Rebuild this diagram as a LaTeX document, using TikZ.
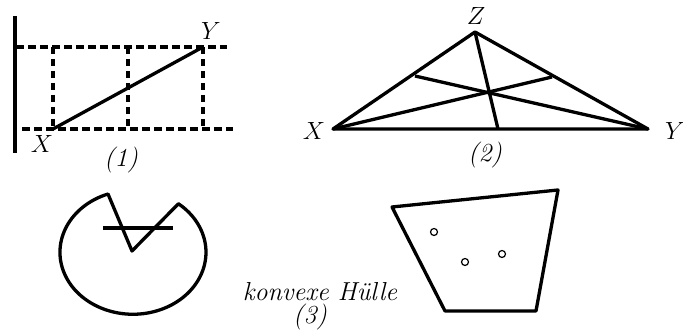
\documentclass[tikz,border=0pt]{standalone}
\usepackage{fontspec}
\begin{document}
\begin{tikzpicture}[x=1pt,y=1pt]
  \tikzstyle{solidLine}=[line width=3.3pt]
  \tikzstyle{dashLine}=[line width=3.3pt, dash pattern=on 7.5pt off 4.5pt]
  \tikzstyle{labelStyle}=[inner sep=0pt, font=\fontsize{26}{28}\selectfont\itshape]
  \tikzstyle{dotStyle}=[circle, draw, line width=1.2pt, minimum size=7pt, inner sep=0pt]

  \useasboundingbox (0,0) rectangle (683,331);

  % (1)
  \begin{scope}
    \coordinate (wallTop) at (15,315);
    \coordinate (wallBottom) at (15,178);
    \draw[solidLine] (wallTop) -- (wallBottom);
    \coordinate (upperLeft) at (16,284);
    \coordinate (upperRight) at (227,284);
    \draw[dashLine] (upperLeft) -- (upperRight);
    \coordinate (lowerLeft) at (22,202);
    \coordinate (lowerRight) at (233,202);
    \draw[dashLine] (lowerLeft) -- (lowerRight);
    \foreach \px/\name in {53/a,128/b,203/c} {
      \coordinate (\name top) at (\px,284);
      \coordinate (\name bottom) at (\px,202);
      \draw[dashLine] (\name top) -- (\name bottom);
    }
    \coordinate (pX) at (53,202);
    \coordinate (pY) at (203,284);
    \draw[solidLine] (pX) -- (pY);
    \node[labelStyle](labelX) at (42,187) {$X$};
    \node[labelStyle](labelY) at (211,300) {$Y$};
    \node[labelStyle](one) at (121,171) {(1)};
  \end{scope}

  % (2)
  \begin{scope}
    \coordinate (tX) at (333,202);
    \coordinate (tY) at (648,202);
    \coordinate (tZ) at (475,299);
    \draw[solidLine, line join=round] (tX) -- (tY) -- (tZ) -- cycle;
    \coordinate (footZ) at (498,202);
    \coordinate (footX) at (552,254);
    \coordinate (footY) at (415,255);
    \draw[solidLine] (tZ) -- (footZ);
    \draw[solidLine] (tX) -- (footX);
    \draw[solidLine] (tY) -- (footY);
    \node[labelStyle](labelZ) at (476,315) {$Z$};
    \node[labelStyle](labelX2) at (314,200) {$X$};
    \node[labelStyle](labelY2) at (675,200) {$Y$};
    \node[labelStyle](two) at (485,176) {(2)};
  \end{scope}

  % (3)
  \begin{scope}
    \coordinate (apex) at (132,80);
    \draw[solidLine, line join=round] (108,137) arc[start angle=110, end angle=411.5, x radius=73, y radius=62] -- (apex) -- cycle;
    \coordinate (barLeft) at (103,103);
    \coordinate (barRight) at (173,103);
    \draw[solidLine] (barLeft) -- (barRight);

    \coordinate (hullA) at (392,124);
    \coordinate (hullB) at (558,141);
    \coordinate (hullC) at (536,20);
    \coordinate (hullD) at (445,20);
    \draw[solidLine, line join=round] (hullA) -- (hullB) -- (hullC) -- (hullD) -- cycle;
    \node[dotStyle](dot1) at (434,99) {};
    \node[dotStyle](dot2) at (465,69) {};
    \node[dotStyle](dot3) at (502,77) {};

    \node[labelStyle, anchor=base](hull) at (320,30) {konvexe Hülle};
    \node[labelStyle](three) at (310,14) {(3)};
  \end{scope}
\end{tikzpicture}
\end{document}
